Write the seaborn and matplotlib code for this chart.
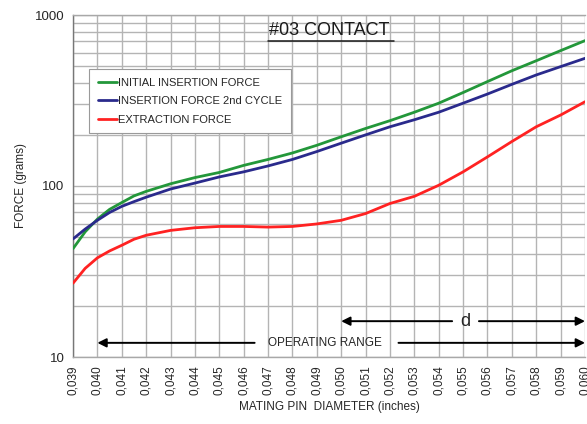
import matplotlib
matplotlib.use("Agg")
import matplotlib.pyplot as plt
import seaborn as sns
import pandas as pd
from matplotlib.ticker import FixedLocator, NullFormatter, LogLocator

# ---- data ----
diameter = [0.039, 0.0395, 0.040, 0.0405, 0.041, 0.0415, 0.042, 0.043, 0.044, 0.045,
            0.046, 0.047, 0.048, 0.049, 0.050, 0.051, 0.052, 0.053, 0.054, 0.055,
            0.056, 0.057, 0.058, 0.059, 0.060]
initial_insertion = [43, 54, 64, 73, 80, 87.5, 93, 103, 112, 120,
                     132, 143, 156, 173, 194, 217, 241, 270, 305, 352,
                     408, 472, 540, 619, 708]
insertion_2nd = [49, 56, 63, 70, 76, 81, 86, 96, 104, 113,
                 121, 131, 143, 159, 178, 199, 222, 244, 270, 305,
                 345, 393, 446, 499, 558]
extraction = [27, 33, 38, 41.7, 45, 48.8, 51.5, 55, 57, 58,
              58, 57.5, 58, 60, 63, 69, 79, 87, 101, 121,
              148, 182, 222, 260, 311]
series_names = ["INITIAL INSERTION FORCE", "INSERTION FORCE 2nd CYCLE", "EXTRACTION FORCE"]
series_colors = ["#23973a", "#2a2a8c", "#ff2222"]
x_ticks = [0.039, 0.040, 0.041, 0.042, 0.043, 0.044, 0.045, 0.046, 0.047, 0.048, 0.049,
           0.050, 0.051, 0.052, 0.053, 0.054, 0.055, 0.056, 0.057, 0.058, 0.059, 0.060]
x_tick_labels = ["0,039", "0,040", "0,041", "0,042", "0,043", "0,044", "0,045", "0,046",
                 "0,047", "0,048", "0,049", "0,050", "0,051", "0,052", "0,053", "0,054",
                 "0,055", "0,056", "0,057", "0,058", "0,059", "0,060"]
y_major = [10, 100, 1000]
y_major_labels = ["10", "100", "1000"]
operating_range = [0.040, 0.060]
d_range = [0.050, 0.060]

df = pd.DataFrame({
    "diameter": diameter * 3,
    "force": initial_insertion + insertion_2nd + extraction,
    "series": [series_names[0]] * len(diameter) + [series_names[1]] * len(diameter)
              + [series_names[2]] * len(diameter),
})

sns.set_style("white")
plt.rcParams["font.family"] = ["Liberation Sans", "DejaVu Sans"]

fig = plt.figure(figsize=(5.87, 4.24), dpi=100)
ax = fig.add_axes([73 / 587, 1 - 357 / 424, 512 / 587, 342 / 424])

sns.lineplot(data=df, x="diameter", y="force", hue="series", hue_order=series_names,
             palette=series_colors, linewidth=2.0, ax=ax, legend=True, zorder=3)

ax.set_yscale("log")
ax.set_ylim(10, 1000)
ax.set_xlim(x_ticks[0], x_ticks[-1])

ax.yaxis.set_major_locator(FixedLocator(y_major))
ax.set_yticklabels(y_major_labels, fontsize=9.5)
ax.yaxis.set_minor_locator(LogLocator(base=10, subs=[2, 3, 4, 5, 6, 7, 8, 9]))
ax.yaxis.set_minor_formatter(NullFormatter())
ax.set_xticks(x_ticks)
ax.set_xticklabels(x_tick_labels, rotation=90, fontsize=8.5)

ax.grid(True, which="both", color="#b4b4b4", linewidth=1.0)
ax.set_axisbelow(True)
ax.tick_params(axis="both", which="both", direction="out", length=4, width=1,
               color="#a0a0a0", pad=2)
for side, sp in ax.spines.items():
    sp.set_color("#a8a8a8")
    sp.set_linewidth(1.0)
ax.spines["left"].set_color("#777777")
ax.spines["right"].set_visible(False)

ax.set_xlabel("MATING PIN  DIAMETER (inches)", fontsize=8.5, labelpad=4)
ax.set_ylabel("FORCE (grams)", fontsize=8.5, labelpad=6)

leg = ax.legend(loc="upper left", bbox_to_anchor=(0.031, 0.842), fontsize=8.0,
                frameon=True, fancybox=False, framealpha=1, edgecolor="#9a9a9a",
                handlelength=1.7, handletextpad=0.1, labelspacing=0.75,
                borderpad=0.8, borderaxespad=0)
leg.get_frame().set_linewidth(0.8)
for lh in leg.get_lines():
    lh.set_linewidth(2.0)

# title with underline
ax.text(0.5, 0.955, "#03 CONTACT", transform=ax.transAxes, ha="center", va="center",
        fontsize=13, color="#1a1a1a")
ax.plot([0.38, 0.627], [0.925, 0.925], transform=ax.transAxes, color="#1a1a1a",
        linewidth=1.1, clip_on=False)

# operating range annotations
arrow_kw = dict(arrowstyle="-|>", color="black", lw=1.4, mutation_scale=13,
                shrinkA=0, shrinkB=0)
y_d = 16.2
y_op = 12.1
d_mid = 0.0551
ax.text(d_mid, y_d, "d", ha="center", va="center", fontsize=13)
ax.annotate("", xy=(d_range[0], y_d), xytext=(d_mid - 0.00055, y_d), arrowprops=arrow_kw)
ax.annotate("", xy=(d_range[1], y_d), xytext=(d_mid + 0.00055, y_d), arrowprops=arrow_kw)

op_mid = 0.04935
ax.text(op_mid, y_op, "OPERATING RANGE", ha="center", va="center", fontsize=8.5)
ax.annotate("", xy=(operating_range[0], y_op), xytext=(op_mid - 0.0029, y_op),
            arrowprops=arrow_kw)
ax.annotate("", xy=(operating_range[1], y_op), xytext=(op_mid + 0.0030, y_op),
            arrowprops=arrow_kw)

fig.savefig("out.png", dpi=100)
